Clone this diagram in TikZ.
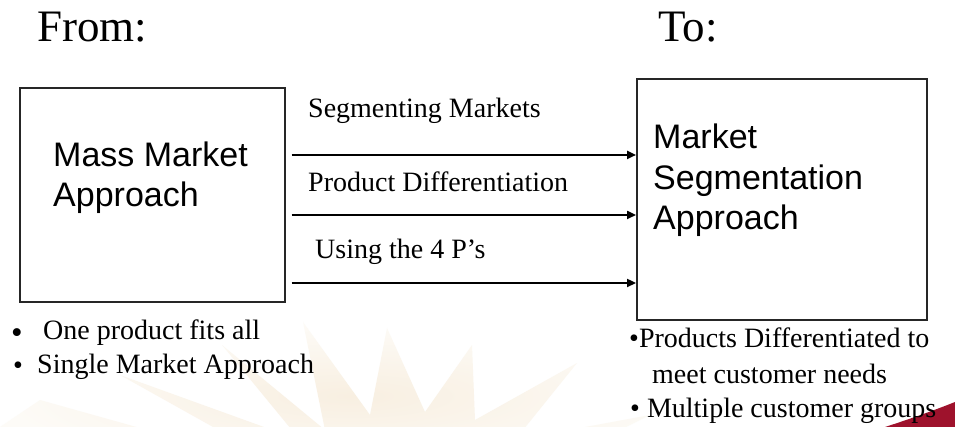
\documentclass[tikz,border=0pt]{standalone}
\usepackage{fontspec}
\setmainfont{Liberation Serif}
\newfontfamily\arialfont{Liberation Sans}
\usetikzlibrary{arrows.meta,calc}

\begin{document}
\begin{tikzpicture}[x=1pt,y=-1pt,
  box/.style={draw=black!85, line width=1.6pt, anchor=north west, inner sep=0pt},
  head/.style={font=\fontsize{45}{54}\selectfont, anchor=base west, inner sep=0pt},
  sanslbl/.style={font=\arialfont\fontsize{34}{40}\selectfont, anchor=base west, inner sep=0pt},
  lbl/.style={font=\fontsize{28}{34}\selectfont, anchor=base west, inner sep=0pt},
  dot/.style={font=\fontsize{#1}{#1}\selectfont, anchor=base west, inner sep=0pt},
  flow/.style={line width=2.8pt, -{Triangle[length=9pt,width=8pt]}},
  burst/.style={inner color={rgb,255:red,248;green,239;blue,225}, outer color={rgb,255:red,253;green,251;blue,247}},
  swoosh/.style={fill={rgb,255:red,158;green,18;blue,44}},
]
% canvas
\fill[white] (0,0) rectangle (955,427);
\useasboundingbox (0,0) rectangle (955,427);

% faint starburst of the slide template
\shade[burst] (0,427) -- (40,400) -- (290,470) -- (120,375) -- (300,440)
  -- (222,345) -- (325,430) -- (303,322) -- (370,415) -- (387,328)
  -- (425,412) -- (472,345) -- (475,420) -- (577,363) -- (515,440)
  -- (650,415) -- (560,460) -- (700,427) -- cycle;

% red swoosh in the corner
\fill[swoosh] (885,427) .. controls (910,419) and (935,410) .. (955,402)
  -- (955,427) -- cycle;

% headings
\node[head] (from) at (37,42) {From:};
\node[head] (to) at (658,42) {To:};

% boxes
\node[box, minimum width=265pt, minimum height=214pt] (mass) at (19,87) {};
\node[box, minimum width=290pt, minimum height=241pt] (seg) at (636,78) {};

\node[sanslbl] (mass1) at (53,167) {Mass Market};
\node[sanslbl] (mass2) at (53,207) {Approach};

\node[sanslbl] (seg1) at (653,149) {Market};
\node[sanslbl] (seg2) at (653,190) {Segmentation};
\node[sanslbl] (seg3) at (653,230) {Approach};

% connector labels
\node[lbl] (l1) at (308,118) {Segmenting Markets};
\node[lbl] (l2) at (308,192) {Product Differentiation};
\node[lbl] (l3) at (315,259) {Using the 4 P’s};

% connectors
\coordinate (r1) at (0,155);
\coordinate (r2) at (0,215);
\coordinate (r3) at (0,283);
\draw[flow] ($(mass.east |- r1)+(6,0)$) -- (seg.west |- r1);
\draw[flow] ($(mass.east |- r2)+(6,0)$) -- (seg.west |- r2);
\draw[flow] ($(mass.east |- r3)+(6,0)$) -- (seg.west |- r3);

% notes under the left box
\node[dot=33] (b1) at (11,343) {•};
\node[lbl] (n1) at (43,339) {One product fits all};
\node[dot=28] (b2) at (13,374) {•};
\node[lbl] (n2) at (37,373) {Single Market Approach};

% notes under the right box
\node[lbl] (m1) at (629,348) {•Products Differentiated to};
\node[lbl] (m2) at (652,383) {meet customer needs};
\node[lbl] (m3) at (630,417) {• Multiple customer groups};
\end{tikzpicture}
\end{document}
